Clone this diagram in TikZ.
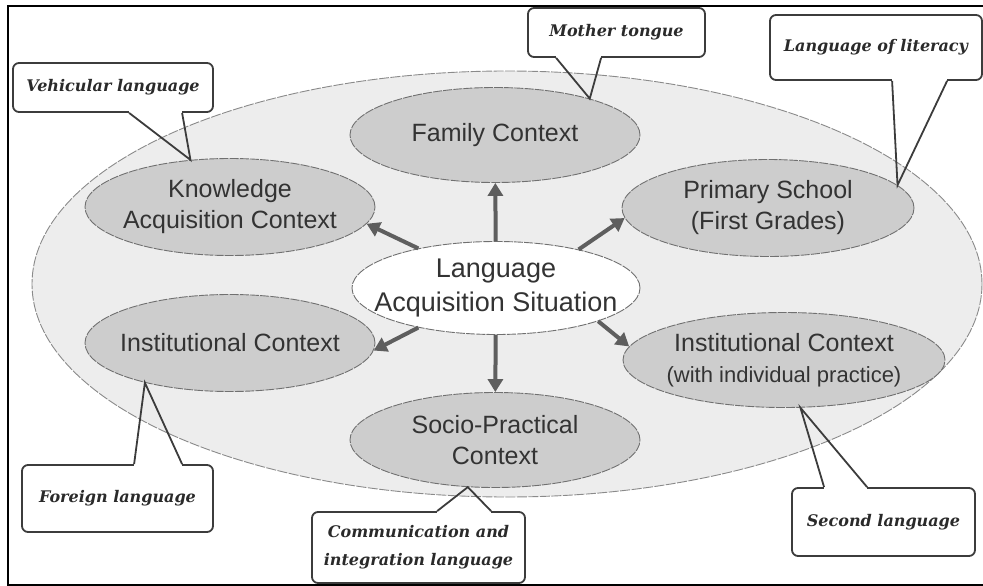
\documentclass[tikz,border=0pt]{standalone}
\usepackage{fontspec}
\setmainfont{Liberation Sans}
\newfontfamily\tagfont{DejaVu Serif}
\usetikzlibrary{shapes.geometric,arrows.meta,calc}
\definecolor{outerfill}{HTML}{EDEDED}
\definecolor{outeredge}{HTML}{8A8A8A}
\definecolor{ctxfill}{HTML}{CDCDCD}
\definecolor{ctxedge}{HTML}{707070}
\definecolor{labtext}{HTML}{333333}
\definecolor{feedgray}{HTML}{5E5E5E}
\definecolor{tagedge}{HTML}{3C3C3C}
\definecolor{tagtext}{HTML}{2A2A2A}
\begin{document}
\begin{tikzpicture}[x=1pt,y=-1pt,
    ctx/.style={ellipse, draw=ctxedge, fill=ctxfill, line width=0.9pt,
      dash pattern=on 9pt off 1.2pt, inner xsep=-30pt, inner ysep=0pt,
      align=center, text=labtext, font=\fontsize{25}{31}\selectfont},
    tag/.style={rectangle, rounded corners=6pt, draw=tagedge, fill=white,
      line width=1.8pt, inner sep=0pt, align=center, text=tagtext,
      font=\tagfont\bfseries\itshape\fontsize{16}{28}\selectfont},
    wedge/.style={draw=tagedge, line width=1.8pt, line join=miter},
    gap/.style={draw=white, line width=3pt},
    feed/.style={draw=feedgray, line width=4pt, -{Triangle[length=13pt,width=15pt]}}]
  \useasboundingbox (0,0) rectangle (983,586);
  \draw[line width=2.5pt] (983,6) -- (8,6) -- (8,585) -- (983,585);
  \draw[draw=outeredge, fill=outerfill, line width=0.9pt, dash pattern=on 10pt off 1.5pt]
    (507,284) ellipse [x radius=475pt, y radius=213pt];

  \node[ctx, minimum width=290, minimum height=95] (fam) at (495,135) {Family Context};
  \node[ctx, minimum width=290, minimum height=97] (know) at (230,207) {Knowledge\\Acquisition Context};
  \node[ctx, minimum width=292, minimum height=97] (prim) at (768,208) {Primary School\\(First Grades)};
  \node[ctx, minimum width=290, minimum height=97] (inst) at (230,343) {Institutional Context};
  \node[ctx, minimum width=322, minimum height=95] (instp) at (784,360)
    {Institutional Context\\{\fontsize{22}{28}\selectfont(with individual practice)}};
  \node[ctx, minimum width=290, minimum height=95] (socio) at (495,440) {Socio-Practical\\Context};
  \node[ctx, fill=white, minimum width=288, minimum height=93, font=\fontsize{27}{34}\selectfont]
    (lang) at (496,288) {Language\\Acquisition Situation};

  \draw[feed] (lang) -- (fam);
  \draw[feed] (lang.153) -- (know.-7);
  \draw[feed] (lang.25) -- (prim.184);
  \draw[feed] (lang.207) -- (inst.-3);
  \draw[feed] (lang) -- (socio);
  \draw[feed] (lang.-18) -- (instp.175);

  \node[tag, minimum width=177, minimum height=49] (mot) at (616.5,32.5) {Mother tongue};
  \draw[gap] ($(mot.south west)+(29,0)$) -- ($(mot.south west)+(74,0)$);
  \draw[wedge] ($(mot.south west)+(29,0)$) -- (fam.21) -- ($(mot.south west)+(74,0)$);

  \node[tag, minimum width=200, minimum height=49] (veh) at (113,87.5) {Vehicular language};
  \draw[gap] ($(veh.south west)+(117,0)$) -- ($(veh.south west)+(170,0)$);
  \draw[wedge] ($(veh.south west)+(117,0)$) -- (know.130) -- ($(veh.south west)+(170,0)$);

  \node[tag, minimum width=212, minimum height=65] (lit) at (876,47.5) {Language of literacy};
  \draw[gap] ($(lit.south west)+(123,0)$) -- ($(lit.south west)+(178,0)$);
  \draw[wedge] ($(lit.south west)+(123,0)$) -- (prim.10) -- ($(lit.south west)+(178,0)$);

  \node[tag, minimum width=191, minimum height=67] (for) at (117.5,498.5) {Foreign language};
  \draw[gap] ($(for.north west)+(113,0)$) -- ($(for.north west)+(161,0)$);
  \draw[wedge] ($(for.north west)+(113,0)$) -- (inst.205) -- ($(for.north west)+(161,0)$);

  \node[tag, minimum width=213, minimum height=71] (com) at (418.5,547.5) {Communication and\\integration language};
  \draw[gap] ($(com.north west)+(126,0)$) -- ($(com.north west)+(180,0)$);
  \draw[wedge] ($(com.north west)+(126,0)$) -- (socio.240) -- ($(com.north west)+(180,0)$);

  \node[tag, minimum width=183, minimum height=68] (sec) at (883.5,522) {Second language};
  \draw[gap] ($(sec.north west)+(33,0)$) -- ($(sec.north west)+(76,0)$);
  \draw[wedge] ($(sec.north west)+(33,0)$) -- (instp.-71) -- ($(sec.north west)+(76,0)$);
\end{tikzpicture}
\end{document}
